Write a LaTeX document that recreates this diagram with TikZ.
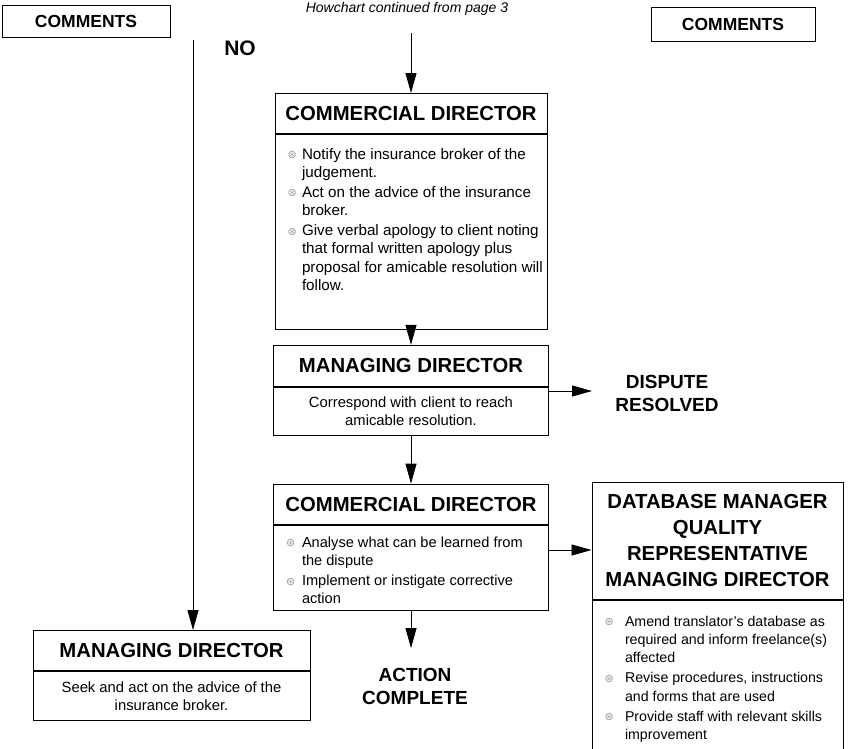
\documentclass[tikz,border=0pt]{standalone}
\usepackage{fontspec}
\setmainfont{Liberation Sans}
\newfontfamily\symfont{DejaVu Sans}
\usetikzlibrary{positioning,arrows.meta}

% bullet list inside a box body
\newlength{\bulw}
\newcommand{\bul}[1]{\par\noindent\hangindent=\bulw\hangafter=1%
  \makebox[\bulw][l]{\hspace{0.5pt}\raisebox{0.5pt}{\symfont\fontsize{11}{10}\selectfont\textcolor{gray!80}{⊛}}}#1\par}
\newcommand{\bullist}[6]{% height, top gap, box width, bullet width, font size, items
  \hspace*{12pt}\makebox[\dimexpr#3-12pt\relax][l]{\parbox[c][#1][t]{320pt}{\raggedright
    \let\\\newline\fontsize{#5}{18.3}\selectfont\setlength{\parskip}{1.7pt}\setlength{\bulw}{#4}%
    \vspace*{#2}#6}}}

\begin{document}
\begin{tikzpicture}[
    x=1pt, y=-1pt,
    head_box/.style={draw, line width=0.9pt, inner sep=0pt, minimum height=40pt, align=center,
        font=\fontsize{20.3}{26}\selectfont\bfseries},
    body_box/.style={draw, line width=0.9pt, inner sep=0pt, font=\fontsize{14.8}{18}\selectfont},
    note_box/.style={draw, line width=0.6pt, inner sep=0pt, font=\fontsize{17.5}{20}\selectfont\bfseries},
    end_text/.style={align=center, inner sep=2pt, font=\fontsize{19}{23}\selectfont\bfseries},
    flow_arrow/.style={line width=0.8pt, -{Triangle[length=20pt,width=11pt]}}
]
\useasboundingbox (0,0) rectangle (850,748);
\clip (0,0) rectangle (850,748);

% Comment columns
\node[note_box, minimum width=168pt, minimum height=32pt] (comments_l) at (86,21) {COMMENTS};
\node[note_box, minimum width=164pt, minimum height=34pt] (comments_r) at (733,24) {COMMENTS};

% Entry from previous page
\node[font=\fontsize{14}{17}\selectfont\itshape, anchor=base] (cont) at (407,12) {Howchart continued from page 3};
\coordinate (entry) at (411,33);

% NO branch
\node[font=\fontsize{21}{24}\selectfont\bfseries] (no) at (240,48) {NO};
\coordinate (no_start) at (193,40);

% Main column
\node[head_box, minimum width=272pt, anchor=north] (cd1) at (411,93) {COMMERCIAL DIRECTOR};
\node[body_box, below=0pt of cd1] (cd1b) {\bullist{195pt}{12pt}{272pt}{15pt}{15.2}{
    \bul{Notify the insurance broker of the\\judgement.}
    \bul{Act on the advice of the insurance\\broker.}
    \bul{Give verbal apology to client noting\\that formal written apology plus\\proposal for amicable resolution will\\follow.}}};

\node[head_box, minimum width=275pt, minimum height=41pt, below=15pt of cd1b] (md1) {MANAGING DIRECTOR};
\node[body_box, minimum width=275pt, minimum height=48pt, align=center, below=0pt of md1] (md1b)
    {Correspond with client to reach\\amicable resolution.};

\node[head_box, minimum width=275pt, below=48pt of md1b] (cd2) {COMMERCIAL DIRECTOR};
\node[body_box, below=0pt of cd2] (cd2b) {\bullist{85pt}{10pt}{275pt}{16.5pt}{14.6}{
    \bul{Analyse what can be learned from\\the dispute}
    \bul{Implement or instigate corrective\\action}}};

% Right column
\node[head_box, minimum width=251pt, minimum height=117pt, anchor=north] (dbm) at (717.5,482)
    {DATABASE MANAGER\\QUALITY\\REPRESENTATIVE\\MANAGING DIRECTOR};
\node[body_box, below=0pt of dbm] (dbmb) {\bullist{170pt}{14pt}{251pt}{21pt}{14.2}{
    \bul{Amend translator's database as\\required and inform freelance(s)\\affected}
    \bul{Revise procedures, instructions\\and forms that are used}
    \bul{Provide staff with relevant skills\\improvement}}};

% Left column
\node[head_box, minimum width=277pt, anchor=north] (md2) at (171.5,630) {MANAGING DIRECTOR};
\node[body_box, minimum width=277pt, minimum height=49pt, align=center, below=0pt of md2] (md2b)
    {Seek and act on the advice of the\\insurance broker.};

% Outcomes
\node[end_text] (resolved) at (667,393) {DISPUTE\\RESOLVED};
\node[end_text] (done) at (415,686) {ACTION\\COMPLETE};
\coordinate (resolved_in) at (592,391);
\coordinate (arrow_y) at (0,550);
\coordinate (dbm_in) at (dbm.west |- arrow_y);

% Connectors
\draw[flow_arrow] (entry) -- (cd1);
\draw[flow_arrow] (cd1b) -- (md1);
\draw[flow_arrow] (md1b) -- (cd2);
\draw[flow_arrow, shorten >=17.5pt] (cd2b.south) -- (cd2b.south |- done.north);
\draw[flow_arrow] (md1b.east |- resolved_in) -- (resolved_in);
\draw[flow_arrow] (cd2b.east |- dbm_in) -- (dbm_in);
\draw[flow_arrow] (no_start) -- (no_start |- md2.north);

\end{tikzpicture}
\end{document}
